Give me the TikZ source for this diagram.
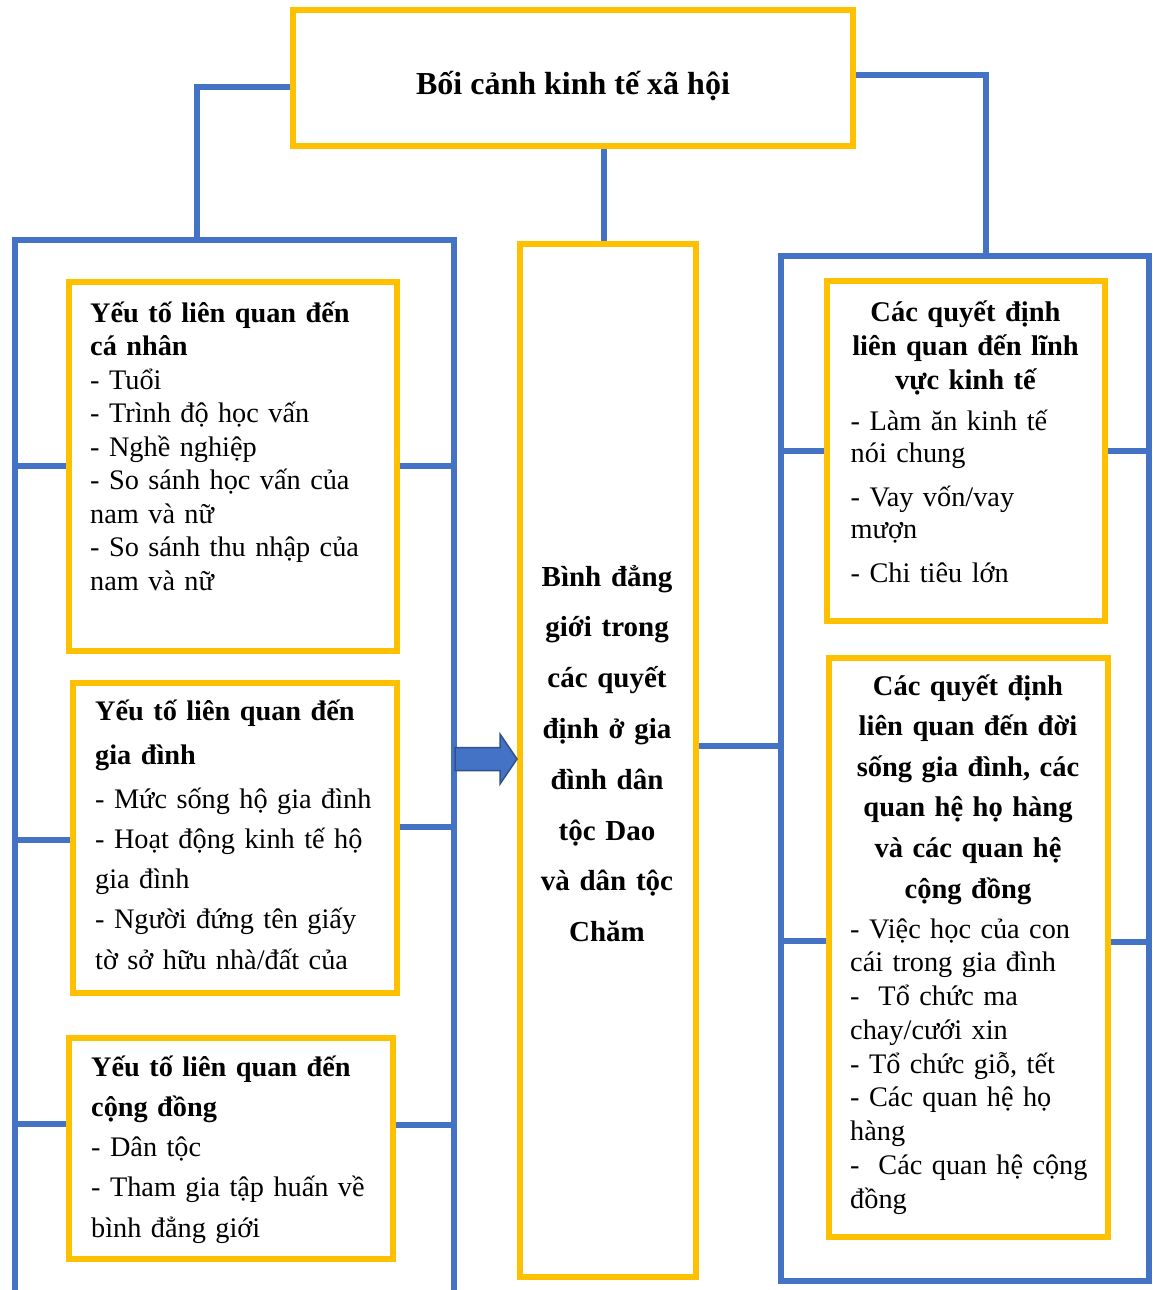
\documentclass[tikz,border=0pt]{standalone}
\usepackage{fontspec}
\setmainfont{Liberation Serif}
\usetikzlibrary{fit}
\usepackage{xcolor}
\definecolor{boxyellow}{HTML}{FFC000}
\definecolor{lineblue}{HTML}{4472C4}
\definecolor{arrowedge}{HTML}{2F528F}

\begin{document}
\begin{tikzpicture}[x=1pt, y=-1pt,
    ybox/.style={draw=boxyellow, line width=6pt, fill=white, inner sep=0pt},
    bframe/.style={draw=lineblue, line width=6pt, inner sep=0pt, outer sep=0pt},
    bline/.style={lineblue, line width=6pt},
    blockarrow/.style={fill=lineblue, draw=arrowedge, line width=1.5pt, line join=miter},
    bodytxt/.style={inner sep=0pt, anchor=base west, align=left, text width=310pt, font=\fontsize{28.3}{#1}\selectfont},
    headtxt/.style={inner sep=0pt, anchor=base, align=center, text width=280pt, font=\bfseries\fontsize{28.5}{#1}\selectfont}]

        \useasboundingbox (0,0) rectangle (1152,1290);
        \clip (0,0) rectangle (1152,1290);

        % frames
        \coordinate (lfL) at (15,239.5);
        \coordinate (lfR) at (454,239.5);
        \draw[bline] (15,1300) -- (lfL) -- (lfR) -- (454,1300);
        \node[bframe, fit={(781,256) (1149,1281)}] (rframe) {};

        % boxes
        \node[ybox, fit={(293,10) (853,146)}] (top) {};
        \node[ybox, fit={(520,244) (696,1277)}] (mid) {};
        \node[ybox, fit={(68.5,281.5) (396.5,651)}] (lb1) {};
        \node[ybox, fit={(72.5,683) (397,993)}] (lb2) {};
        \node[ybox, fit={(69,1038) (393,1258.5)}] (lb3) {};
        \node[ybox, fit={(827,281) (1104.5,621)}] (rb1) {};
        \node[ybox, fit={(828.5,658) (1108,1236.5)}] (rb2) {};

        % connectors
        \coordinate (lfTop) at (197,239.5);
        \coordinate (rfTop) at (986,256);
        \draw[bline] ([yshift=-9pt]top.west) -| (lfTop);
        \draw[bline] ([yshift=3pt]top.east) -| (rfTop);
        \draw[bline] ([xshift=-4pt]mid.north) -- ([xshift=-4pt]mid.north |- top.south);

        \draw[bline] (lb1.west) -- (lb1.west -| lfL);
        \draw[bline] (lb1.east) -- (lb1.east -| lfR);
        \draw[bline] ([yshift=-2pt]lb2.west) -- ([yshift=-2pt]lb2.west -| lfL);
        \draw[bline] ([yshift=11pt]lb2.east) -- ([yshift=11pt]lb2.east -| lfR);
        \draw[bline] ([yshift=24pt]lb3.west) -- ([yshift=24pt]lb3.west -| lfL);
        \draw[bline] ([yshift=23pt]lb3.east) -- ([yshift=23pt]lb3.east -| lfR);

        \draw[bline] (rb1.west) -- (rb1.west -| rframe.west);
        \draw[bline] (rb1.east) -- (rb1.east -| rframe.east);
        \draw[bline] ([yshift=6pt]rb2.west) -- ([yshift=6pt]rb2.west -| rframe.west);
        \draw[bline] ([yshift=5pt]rb2.east) -- ([yshift=5pt]rb2.east -| rframe.east);
        \draw[bline] ([yshift=14.5pt]mid.east) -- ([yshift=14.5pt]mid.east -| rframe.west);

        \draw[blockarrow] ([yshift=1.5pt]mid.west) -- ++(-17,-25) -- ++(0,13.5) -- ++(-45,0)
            -- ++(0,23) -- ++(45,0) -- ++(0,13.5) -- cycle;

        % texts
        \node[inner sep=0pt, anchor=base, font=\bfseries\fontsize{32}{36}\selectfont] (toptxt) at (573,94) {Bối cảnh kinh tế xã hội};

        \node[headtxt=50.8, text width=170pt, font=\bfseries\fontsize{29}{50.8}\selectfont] (midtxt) at (607,586) {Bình đẳng\\ giới trong\\ các quyết\\ định ở gia\\ đình dân\\ tộc Dao\\ và dân tộc\\ Chăm};

        \node[bodytxt=33.5] (lt1) at (90,322) {\textbf{Yếu tố liên quan đến}\\ \textbf{cá nhân}\\ - Tuổi\\ - Trình độ học vấn\\ - Nghề nghiệp\\ - So sánh học vấn của\\ nam và nữ\\ - So sánh thu nhập của\\ nam và nữ};

        \node[bodytxt=40.3] (lt2) at (95,720) {\textbf{Yếu tố liên quan đến}\\[3.7pt] \textbf{gia đình}\\[3.7pt] - Mức sống hộ gia đình\\ - Hoạt động kinh tế hộ\\ gia đình\\ - Người đứng tên giấy\\ tờ sở hữu nhà/đất của};

        \node[bodytxt=40.3] (lt3) at (91,1076) {\makebox[280pt][s]{\bfseries Yếu tố liên quan đến}\\ \textbf{cộng đồng}\\ - Dân tộc\\ - Tham gia tập huấn về\\ bình đẳng giới};

        \node[headtxt=34] (rt1h) at (965.5,321) {Các quyết định\\ liên quan đến lĩnh\\ vực kinh tế};
        \node[bodytxt=32.5, text width=250pt] (rt1) at (850.5,430) {- Làm ăn kinh tế\\ nói chung\\[11pt] - Vay vốn/vay\\ mượn\\[11pt] - Chi tiêu lớn};

        \node[headtxt=40.6] (rt2h) at (968,695) {Các quyết định\\ liên quan đến đời\\ sống gia đình, các\\ quan hệ họ hàng\\ và các quan hệ\\ cộng đồng};
        \node[bodytxt=33.75, text width=250pt] (rt2) at (850,938) {- Việc học của con\\ cái trong gia đình\\ -\ \ Tổ chức ma\\ chay/cưới xin\\ - Tổ chức giỗ, tết\\ - Các quan hệ họ\\ hàng\\ -\ \ Các quan hệ cộng\\ đồng};

\end{tikzpicture}
\end{document}
